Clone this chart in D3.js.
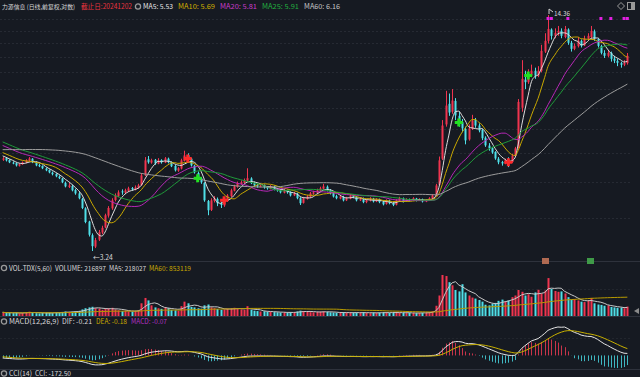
<!DOCTYPE html>
<html>
<head>
<meta charset="utf-8">
<script src="https://cdn.jsdelivr.net/npm/d3@7"></script>
<style>
html, body { margin: 0; padding: 0; background: #161a22; }
svg { display: block; font-family: "Noto Sans CJK SC", "Noto Sans", sans-serif; }
</style>
</head>
<body>
<svg id="chart" width="640" height="377"></svg>
<script>
// closes before the first drawn candle (only feed the moving averages / MACD)
const priorCloses = [
  5.60, 5.65, 5.58, 5.62, 5.70, 5.66, 5.60, 5.55, 5.62, 5.68,
  5.64, 5.58, 5.55, 5.60, 5.66, 5.62, 5.58, 5.64, 5.70, 5.66,
  5.72, 5.68, 5.75, 5.80, 5.78, 5.85, 5.90, 5.95, 6.10, 6.30,
  6.50, 6.70, 6.90, 7.05, 7.15, 7.20, 7.15, 7.08, 7.02, 6.96,
  6.90, 6.85, 6.78, 6.72, 6.66, 6.60, 6.55, 6.50, 6.44, 6.38,
  6.32, 6.26, 6.20, 6.15, 6.10, 6.05, 6.00, 5.95, 5.90, 5.86
];

const opens = [
  5.76, 5.82, 5.75, 5.66, 5.64, 5.55, 5.60, 5.66, 5.73, 5.80,
  5.68, 5.57, 5.54, 5.45, 5.40, 5.31, 5.27, 5.18, 5.12, 4.98,
  4.85, 4.88, 4.76, 4.66, 4.50, 4.24, 3.90, 3.58, 3.33, 3.48,
  3.64, 3.76, 4.05, 4.24, 4.47, 4.58, 4.72, 4.68, 4.74, 4.82,
  4.77, 4.83, 4.91, 5.22, 5.78, 5.66, 5.76, 5.62, 5.75, 5.66,
  5.80, 5.68, 5.54, 5.38, 5.45, 5.72, 5.93, 5.80, 5.55, 5.30,
  5.12, 4.98, 4.44, 4.20, 4.45, 4.50, 4.38, 4.32, 4.45, 4.58,
  4.74, 4.86, 4.95, 4.98, 5.05, 5.12, 4.98, 4.91, 4.86, 4.90,
  4.85, 4.80, 4.86, 4.79, 4.76, 4.68, 4.74, 4.70, 4.60, 4.65,
  4.52, 4.39, 4.50, 4.56, 4.65, 4.68, 4.74, 4.80, 4.86, 4.76,
  4.67, 4.58, 4.51, 4.56, 4.46, 4.51, 4.60, 4.55, 4.46, 4.51,
  4.41, 4.45, 4.51, 4.43, 4.48, 4.42, 4.36, 4.45, 4.39, 4.34,
  4.45, 4.51, 4.44, 4.49, 4.46, 4.51, 4.46, 4.49, 4.43, 4.46,
  4.51, 4.60, 4.92, 5.80, 7.20, 8.20, 7.80, 8.35, 7.60, 7.30,
  7.00, 6.55, 7.00, 7.40, 7.15, 6.95, 6.62, 6.30, 6.20, 6.05,
  5.80, 5.68, 5.62, 5.75, 5.68, 5.90, 6.22, 8.00, 9.55, 9.40,
  9.80, 10.10, 9.80, 10.10, 11.40, 12.20, 13.10, 12.60, 12.85, 13.00,
  12.50, 13.10, 12.05, 11.60, 11.80, 12.20, 11.85, 12.35, 12.50, 12.95,
  12.35, 11.80, 11.30, 11.10, 11.30, 10.90, 10.75, 10.60, 10.50, 10.60
];

const highs = [
  5.86, 5.85, 5.78, 5.70, 5.66, 5.63, 5.70, 5.78, 5.86, 5.82,
  5.70, 5.61, 5.56, 5.48, 5.42, 5.35, 5.29, 5.22, 5.14, 5.02,
  4.98, 4.92, 4.80, 4.70, 4.53, 4.27, 3.92, 3.62, 3.52, 3.70,
  3.80, 4.10, 4.30, 4.52, 4.66, 4.75, 4.78, 4.80, 4.86, 4.85,
  4.90, 4.95, 5.30, 5.86, 5.90, 5.80, 5.79, 5.82, 5.78, 5.86,
  5.84, 5.70, 5.58, 5.50, 5.80, 6.10, 6.00, 5.83, 5.58, 5.35,
  5.16, 5.00, 4.47, 4.52, 4.58, 4.54, 4.42, 4.50, 4.64, 4.80,
  4.92, 5.02, 5.06, 5.12, 5.46, 5.16, 5.02, 4.95, 4.95, 4.93,
  4.88, 4.91, 4.89, 4.82, 4.79, 4.78, 4.77, 4.72, 4.70, 4.68,
  4.55, 4.56, 4.61, 4.70, 4.74, 4.80, 4.86, 4.95, 4.90, 4.79,
  4.70, 4.62, 4.61, 4.59, 4.56, 4.64, 4.63, 4.58, 4.55, 4.54,
  4.49, 4.55, 4.53, 4.52, 4.51, 4.45, 4.49, 4.48, 4.41, 4.49,
  4.56, 4.54, 4.52, 4.51, 4.55, 4.53, 4.52, 4.51, 4.49, 4.55,
  4.64, 4.95, 5.88, 7.40, 8.90, 8.75, 9.00, 8.50, 7.80, 7.45,
  7.10, 7.20, 7.65, 7.50, 7.25, 7.00, 6.68, 6.40, 6.25, 6.08,
  5.86, 5.72, 5.80, 5.85, 5.98, 6.25, 8.45, 10.80, 10.10, 10.20,
  10.50, 10.30, 10.40, 11.90, 12.80, 14.36, 13.20, 13.20, 13.40, 13.20,
  13.40, 13.20, 12.20, 12.00, 12.50, 12.30, 12.60, 12.80, 13.40, 13.10,
  12.40, 11.90, 11.50, 11.50, 11.40, 11.10, 10.90, 10.70, 10.80, 11.30
];

const lows = [
  5.72, 5.70, 5.64, 5.60, 5.52, 5.52, 5.58, 5.64, 5.70, 5.64,
  5.53, 5.50, 5.43, 5.36, 5.29, 5.22, 5.16, 5.10, 4.97, 4.84,
  4.82, 4.72, 4.62, 4.49, 4.22, 3.86, 3.55, 3.24, 3.30, 3.45,
  3.60, 3.74, 4.00, 4.20, 4.43, 4.55, 4.62, 4.65, 4.70, 4.74,
  4.75, 4.80, 4.89, 5.20, 5.62, 5.62, 5.58, 5.60, 5.62, 5.64,
  5.63, 5.50, 5.35, 5.34, 5.42, 5.70, 5.76, 5.52, 5.28, 5.10,
  4.95, 4.42, 4.06, 4.17, 4.40, 4.30, 4.25, 4.28, 4.42, 4.55,
  4.72, 4.83, 4.92, 4.96, 5.02, 4.94, 4.86, 4.83, 4.84, 4.80,
  4.77, 4.78, 4.75, 4.71, 4.66, 4.66, 4.65, 4.57, 4.58, 4.49,
  4.33, 4.37, 4.48, 4.54, 4.62, 4.66, 4.72, 4.78, 4.72, 4.63,
  4.54, 4.49, 4.49, 4.43, 4.44, 4.49, 4.52, 4.43, 4.44, 4.38,
  4.38, 4.43, 4.40, 4.41, 4.38, 4.32, 4.34, 4.35, 4.30, 4.32,
  4.43, 4.40, 4.42, 4.43, 4.44, 4.43, 4.44, 4.40, 4.41, 4.44,
  4.49, 4.58, 4.90, 5.75, 7.10, 7.60, 7.70, 7.40, 7.10, 6.85,
  6.35, 6.50, 6.95, 7.05, 6.85, 6.52, 6.25, 6.10, 5.98, 5.76,
  5.60, 5.55, 5.60, 5.50, 5.65, 5.88, 6.18, 7.80, 9.00, 9.30,
  9.70, 9.60, 9.70, 10.00, 11.30, 12.00, 12.30, 12.40, 12.60, 12.40,
  12.40, 11.90, 11.40, 11.50, 11.70, 11.70, 11.80, 12.20, 12.40, 12.20,
  11.70, 11.20, 10.95, 11.00, 10.70, 10.60, 10.40, 10.30, 10.40, 10.50
];

const closes = [
  5.81, 5.74, 5.67, 5.63, 5.56, 5.60, 5.67, 5.74, 5.81, 5.67,
  5.56, 5.53, 5.46, 5.39, 5.32, 5.26, 5.19, 5.13, 5.00, 4.87,
  4.90, 4.75, 4.66, 4.52, 4.25, 3.89, 3.59, 3.34, 3.47, 3.65,
  3.75, 4.06, 4.25, 4.46, 4.60, 4.69, 4.69, 4.75, 4.81, 4.78,
  4.84, 4.90, 5.22, 5.74, 5.67, 5.74, 5.63, 5.74, 5.67, 5.81,
  5.67, 5.53, 5.39, 5.46, 5.74, 5.92, 5.81, 5.56, 5.32, 5.13,
  5.00, 4.46, 4.19, 4.46, 4.52, 4.38, 4.33, 4.46, 4.60, 4.75,
  4.87, 4.97, 5.00, 5.06, 5.13, 4.97, 4.90, 4.87, 4.90, 4.84,
  4.81, 4.87, 4.78, 4.75, 4.69, 4.75, 4.69, 4.60, 4.66, 4.52,
  4.38, 4.52, 4.57, 4.66, 4.69, 4.75, 4.81, 4.87, 4.75, 4.66,
  4.57, 4.52, 4.57, 4.46, 4.52, 4.60, 4.55, 4.46, 4.52, 4.41,
  4.46, 4.52, 4.43, 4.49, 4.41, 4.35, 4.46, 4.38, 4.33, 4.46,
  4.52, 4.43, 4.49, 4.46, 4.52, 4.46, 4.49, 4.43, 4.46, 4.52,
  4.60, 4.90, 5.74, 7.15, 8.11, 7.76, 8.37, 7.62, 7.29, 7.02,
  6.51, 7.02, 7.38, 7.15, 6.93, 6.60, 6.31, 6.19, 6.03, 5.81,
  5.67, 5.63, 5.74, 5.67, 5.92, 6.19, 8.30, 9.60, 9.40, 9.80,
  10.10, 9.79, 10.10, 11.45, 12.20, 13.15, 12.59, 12.83, 12.99, 12.59,
  13.15, 12.05, 11.60, 11.82, 12.20, 11.82, 12.36, 12.59, 12.99, 12.36,
  11.82, 11.31, 11.10, 11.31, 10.89, 10.76, 10.62, 10.49, 10.62, 11.10
];

// volume, thousands of shares
const volumes = [
  180, 150, 160, 140, 170, 130, 150, 190, 210, 160,
  140, 130, 150, 170, 160, 140, 180, 160, 200, 220,
  190, 210, 230, 250, 320, 380, 420, 450, 380, 360,
  300, 340, 380, 400, 320, 280, 240, 260, 230, 220,
  250, 280, 620, 880, 760, 520, 420, 380, 350, 420,
  380, 300, 280, 260, 480, 700, 620, 440, 420, 380,
  360, 520, 560, 420, 380, 340, 300, 320, 360, 380,
  400, 350, 320, 300, 480, 300, 260, 240, 220, 230,
  200, 210, 190, 180, 170, 180, 160, 190, 170, 220,
  260, 240, 200, 190, 180, 200, 210, 230, 200, 180,
  170, 160, 150, 180, 170, 160, 150, 170, 160, 180,
  150, 140, 160, 150, 170, 180, 160, 150, 170, 180,
  160, 150, 140, 160, 150, 140, 150, 160, 170, 180,
  230, 500, 1000, 2000, 1950, 1650, 1500, 1270, 1200, 1550,
  1150, 1000, 900, 850, 780, 700, 550, 520, 600, 640,
  740, 800, 700, 760, 920, 1000, 1270, 1180, 1000, 1060,
  940, 1150, 1280, 1100, 1240, 1850, 1320, 1220, 1180, 1200,
  1100, 920, 800, 820, 760, 700, 680, 760, 880, 620,
  560, 540, 500, 520, 440, 420, 400, 410, 380, 460
];

const buySignals = [56, 67, 153];     // red crosses
const sellSignals = [59, 138, 159];   // green crosses
const topMarks = [165, 166, 171, 181, 184, 188, 189];
const priceGrid = [4, 5, 6, 7, 8, 9, 10, 11, 12, 13, 14];

const maPeriods = [5, 10, 20, 25, 60];
const maColors = ['#dcdcdc', '#c9a800', '#b628b6', '#1f9a3a', '#9c9c9c'];

const UP = '#f0344f', DOWN = '#4fdfe8';

const svg = d3.select('#chart');
const width = 640;
const n = closes.length;
const P = priorCloses.length;
const allCloses = priorCloses.concat(closes);

const x = d3.scaleLinear().domain([-0.5, n - 0.5]).range([1, 629]);
const y = d3.scaleLog()
  .domain([d3.min(lows), d3.max(highs)])
  .range([251, 15]);

const isUp = i => closes[i] >= opens[i];

// moving averages over the full close history
const movingAvg = (arr, period, offset) => d3.range(n).map(i => {
  const end = i + offset;
  const start = Math.max(0, end - period + 1);
  return d3.mean(arr.slice(start, end + 1));
});

const ema = (arr, period) => {
  const k = 2 / (period + 1);
  const out = [];
  arr.forEach((v, i) => out.push(i === 0 ? v : out[i - 1] + k * (v - out[i - 1])));
  return out;
};

// grid
svg.append('g')
  .selectAll('line')
  .data(priceGrid)
  .join('line')
  .attr('x1', 0).attr('x2', 630)
  .attr('y1', d => Math.round(y(d)) + 0.5)
  .attr('y2', d => Math.round(y(d)) + 0.5)
  .attr('stroke', '#262a33')
  .attr('stroke-dasharray', '2,2');

// panel separators
[261.5, 316.5, 369.5].forEach(yy => {
  svg.append('line')
    .attr('x1', 0).attr('x2', width)
    .attr('y1', yy).attr('y2', yy)
    .attr('stroke', '#2e323c');
});
[289.5, 338.5].forEach(yy => {
  svg.append('line')
    .attr('x1', 0).attr('x2', 630)
    .attr('y1', yy).attr('y2', yy)
    .attr('stroke', '#22262e')
    .attr('stroke-dasharray', '2,2');
});

// candles
const candles = svg.append('g');
candles.selectAll('line')
  .data(d3.range(n))
  .join('line')
  .attr('x1', i => Math.round(x(i)) + 0.5)
  .attr('x2', i => Math.round(x(i)) + 0.5)
  .attr('y1', i => y(highs[i]))
  .attr('y2', i => y(lows[i]))
  .attr('stroke', i => isUp(i) ? UP : DOWN)
  .attr('stroke-width', 1);

candles.selectAll('rect')
  .data(d3.range(n))
  .join('rect')
  .attr('x', i => Math.round(x(i)) - 0.5)
  .attr('width', 2)
  .attr('y', i => y(Math.max(opens[i], closes[i])))
  .attr('height', i => Math.max(1, Math.abs(y(opens[i]) - y(closes[i]))))
  .attr('fill', i => isUp(i) ? UP : DOWN);

// moving average lines
const maLine = d3.line().x((d, i) => x(i)).y(d => y(d)).curve(d3.curveMonotoneX);
maPeriods.forEach((p, k) => {
  svg.append('path')
    .datum(movingAvg(allCloses, p, P))
    .attr('fill', 'none')
    .attr('stroke', maColors[k])
    .attr('stroke-width', 1)
    .attr('d', maLine);
});

// signal crosses
const cross = (i, color) => {
  const cx = x(i), cy = y(closes[i]);
  svg.append('path')
    .attr('d', `M${cx - 4},${cy} L${cx + 4},${cy} M${cx},${cy - 4} L${cx},${cy + 4}`)
    .attr('stroke', color)
    .attr('stroke-width', 3);
};
buySignals.forEach(i => cross(i, '#ff2a2a'));
sellSignals.forEach(i => cross(i, '#22e022'));

// magenta marks along the top
svg.append('g')
  .selectAll('rect')
  .data(topMarks)
  .join('rect')
  .attr('x', i => x(i) - 1.5)
  .attr('y', 17)
  .attr('width', 3)
  .attr('height', 3)
  .attr('fill', '#e020e0');

// high / low labels
const hiIdx = highs.indexOf(d3.max(highs));
const loIdx = lows.indexOf(d3.min(lows));
const hx = x(hiIdx), hy = y(highs[hiIdx]);
svg.append('path')
  .attr('d', `M${hx + 1},${hy - 1} L${hx + 1},${hy - 6} M${hx + 1},${hy - 6} L${hx + 5},${hy - 3}`)
  .attr('stroke', '#cfcfcf').attr('fill', 'none');
svg.append('text')
  .attr('x', hx + 6).attr('y', hy + 1)
  .attr('fill', '#d8d8d8').attr('font-size', 7)
  .attr('textLength', 16).attr('lengthAdjust', 'spacingAndGlyphs')
  .text(d3.format('.2f')(highs[hiIdx]));

const lx = x(loIdx), ly = y(lows[loIdx]);
svg.append('text')
  .attr('x', lx + 1).attr('y', ly + 9)
  .attr('fill', '#d8d8d8').attr('font-size', 7)
  .attr('textLength', 20).attr('lengthAdjust', 'spacingAndGlyphs')
  .text('←' + d3.format('.2f')(lows[loIdx]));

// volume panel
const vol = d3.scaleLinear().domain([0, d3.max(volumes)]).range([316, 275]);
svg.append('g')
  .selectAll('rect')
  .data(d3.range(n))
  .join('rect')
  .attr('x', i => Math.round(x(i)) - 0.5)
  .attr('width', 2)
  .attr('y', i => vol(volumes[i]))
  .attr('height', i => 316 - vol(volumes[i]))
  .attr('fill', i => isUp(i) ? UP : DOWN);

const volLine = d3.line().x((d, i) => x(i)).y(d => vol(d));
[[5, '#c8c8c8'], [60, '#b89a00']].forEach(([p, c]) => {
  svg.append('path')
    .datum(movingAvg(volumes, p, 0))
    .attr('fill', 'none')
    .attr('stroke', c)
    .attr('stroke-width', 1)
    .attr('d', volLine);
});

// MACD panel
const ema12 = ema(allCloses, 12), ema26 = ema(allCloses, 26);
const difAll = ema12.map((v, i) => v - ema26[i]);
const deaAll = ema(difAll, 9);
const dif = difAll.slice(P), dea = deaAll.slice(P);
const hist = dif.map((v, i) => 2 * (v - dea[i]));
const macdY = d3.scaleLinear()
  .domain(d3.extent(dif.concat(dea, hist)))
  .range([368, 327]);

svg.append('g')
  .selectAll('line')
  .data(d3.range(n))
  .join('line')
  .attr('x1', i => Math.round(x(i)) + 0.5)
  .attr('x2', i => Math.round(x(i)) + 0.5)
  .attr('y1', macdY(0))
  .attr('y2', i => macdY(hist[i]))
  .attr('stroke', i => hist[i] >= 0 ? '#c8344a' : '#3fb8c2')
  .attr('stroke-width', 1);

const macdLine = d3.line().x((d, i) => x(i)).y(d => macdY(d));
[[dif, '#e4e4e4'], [dea, '#c8b000']].forEach(([data, c]) => {
  svg.append('path')
    .datum(data)
    .attr('fill', 'none')
    .attr('stroke', c)
    .attr('stroke-width', 1)
    .attr('d', macdLine);
});

// legends: [text, colour, x, width, font size]
const gear = (gx, gy) => {
  svg.append('circle').attr('cx', gx).attr('cy', gy).attr('r', 2.6)
    .attr('fill', 'none').attr('stroke', '#9a9a9a').attr('stroke-width', 1.3);
};
const legend = (items, ly) => {
  items.forEach(([t, c, lx, w, fs]) => {
    svg.append('text')
      .attr('x', lx).attr('y', ly)
      .attr('fill', c)
      .attr('font-size', fs || 7)
      .attr('textLength', w)
      .attr('lengthAdjust', 'spacingAndGlyphs')
      .text(t);
  });
};

legend([
  ['力源信息 (日线,前复权,对数)', '#d8d8d8', 2, 73, 6.2],
  ['截止日:20241202', '#e8343f', 81, 51],
  ['MA5: 5.53', '#e6e6e6', 143, 30],
  ['MA10: 5.69', '#d0ae00', 178, 37],
  ['MA20: 5.81', '#c83cc8', 220, 37],
  ['MA25: 5.91', '#22b040', 262, 37],
  ['MA60: 6.16', '#c6c6c6', 304, 36]
], 9);
gear(138, 6.5);

legend([
  ['VOL-TDX(5,60)', '#d8d8d8', 9, 43],
  ['VOLUME: 216897', '#d8d8d8', 55, 51],
  ['MA5: 218027', '#d8d8d8', 109, 37],
  ['MA60: 853119', '#c9a800', 149, 42]
], 270.5);
gear(4, 268);

legend([
  ['MACD(12,26,9)', '#d8d8d8', 9, 50],
  ['DIF: -0.21', '#d8d8d8', 62, 30],
  ['DEA: -0.18', '#c9a800', 96, 31],
  ['MACD: -0.07', '#b030c0', 131, 36]
], 324);
gear(4, 321.5);

legend([
  ['CCI(14)', '#d8d8d8', 9, 23],
  ['CCI: -172.50', '#d8d8d8', 35, 36]
], 376);
gear(4, 373.5);

// top-right tool icons
svg.append('path').attr('d', 'M621,2.5 L624.5,6 L621,9.5 L617.5,6 Z')
  .attr('fill', 'none').attr('stroke', '#9a9a9a');
svg.append('rect').attr('x', 627.5).attr('y', 2.5).attr('width', 7).attr('height', 7)
  .attr('fill', 'none').attr('stroke', '#9a9a9a');
svg.append('rect').attr('x', 631).attr('y', 3).attr('width', 3).attr('height', 6)
  .attr('fill', '#9a9a9a');

// small badges under the price panel
svg.append('rect').attr('x', 542).attr('y', 258).attr('width', 7).attr('height', 6)
  .attr('fill', '#b06a52');
svg.append('rect').attr('x', 587).attr('y', 258).attr('width', 7).attr('height', 6)
  .attr('fill', '#3f9a48');

// right edge marker in the volume panel
svg.append('path').attr('d', 'M634,311 L639,308 L639,314 Z').attr('fill', '#8a8a8a');
</script>
</body>
</html>
